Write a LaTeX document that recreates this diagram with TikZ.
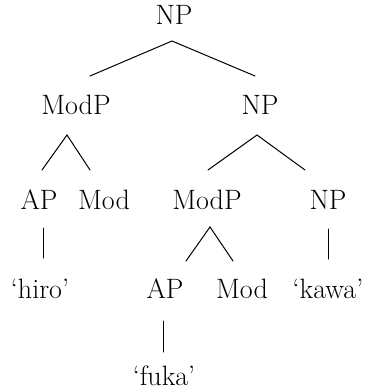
\documentclass[tikz,border=0pt]{standalone}
\usepackage{fontspec}
\begin{document}
\begin{tikzpicture}[x=1pt,y=-1pt,
  lbl/.style={anchor=base,inner sep=0pt,font=\fontsize{28}{32}\selectfont},
  branch/.style={line width=1pt,line cap=round}]
\useasboundingbox (0,0) rectangle (367,390);
% nodes
\node[lbl] (np0) at (174,25) {NP};
\node[lbl] (modp1) at (76,115) {ModP};
\node[lbl] (np1) at (260,115) {NP};
\node[lbl] (ap1) at (39,209) {AP};
\node[lbl] (mod1) at (104,209) {Mod};
\node[lbl] (modp2) at (207,209) {ModP};
\node[lbl] (np2) at (328,209) {NP};
\node[lbl] (hiro) at (40,298) {‘hiro’};
\node[lbl] (ap2) at (165,298) {AP};
\node[lbl] (mod2) at (242,298) {Mod};
\node[lbl] (kawa) at (328,298) {‘kawa’};
\node[lbl] (fuka) at (164,385) {‘fuka’};
% branches
\draw[branch] ([xshift=14pt,yshift=39pt]modp1.base) -- ([xshift=-2pt,yshift=-16pt]np0.base) -- ([xshift=-5pt,yshift=39pt]np1.base);
\draw[branch] ([xshift=3pt,yshift=39pt]ap1.base) -- ([xshift=-9pt,yshift=-20pt]modp1.base) -- ([xshift=-14pt,yshift=39pt]mod1.base);
\draw[branch] ([xshift=1pt,yshift=39pt]modp2.base) -- ([xshift=-3pt,yshift=-20pt]np1.base) -- ([xshift=-23pt,yshift=39pt]np2.base);
\draw[branch] ([xshift=4pt,yshift=-19pt]ap1.base) -- ([xshift=3pt,yshift=40pt]hiro.base);
\draw[branch] ([xshift=21pt,yshift=37pt]ap2.base) -- ([xshift=3pt,yshift=-18pt]modp2.base) -- ([xshift=-9pt,yshift=37pt]mod2.base);
\draw[branch] ([yshift=-20pt]np2.base) -- ([yshift=39pt]kawa.base);
\draw[branch] ([xshift=-2pt,yshift=-23pt]ap2.base) -- ([xshift=-1pt,yshift=33pt]fuka.base);
\end{tikzpicture}
\end{document}
